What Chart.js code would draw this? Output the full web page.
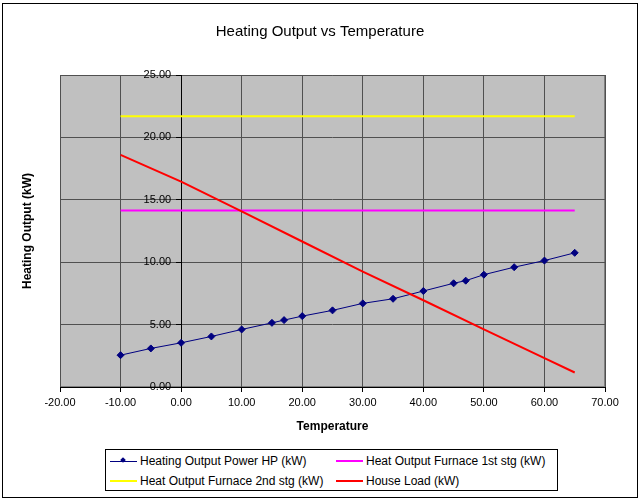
<!DOCTYPE html>
<html>
<head>
<meta charset="utf-8">
<title>Heating Output vs Temperature</title>
<script src="https://cdn.jsdelivr.net/npm/chart.js@4.4.1/dist/chart.umd.min.js"></script>
<style>
  body { margin: 0; background: #fff; font-family: "Liberation Sans", Arial, sans-serif; }
  #wrap { position: relative; width: 640px; height: 500px; }
  #frame { position: absolute; left: 2px; top: 3px; width: 634px; height: 493px; border: 1px solid #000; pointer-events: none; }
  #legend { position: absolute; left: 105px; top: 449px; width: 451px; height: 40px; border: 1px solid #000; background: #fff; font-size: 12px; color: #000; }
  .item { position: absolute; height: 14px; line-height: 14px; white-space: nowrap; }
  .swatch { position: absolute; left: 0; width: 27px; }
  .diamond { position: absolute; left: 11px; top: 4px; width: 4px; height: 4px; transform: rotate(45deg); }
  .label { position: absolute; left: 30px; top: 0; }
</style>
</head>
<body>
<div id="wrap">
  <canvas id="heatChart" width="640" height="500"></canvas>
  <div id="frame"></div>
  <div id="legend"></div>
</div>
<script>
  // values
  const hpTemps = [-10, -5, 0, 5, 10, 15, 17, 20, 25, 30, 35, 40, 45, 47, 50, 55, 60, 65];
  const hpOutput = [2.55, 3.09, 3.54, 4.05, 4.61, 5.14, 5.36, 5.68, 6.14, 6.70, 7.07, 7.69, 8.31, 8.52, 9.00, 9.60, 10.13, 10.75];
  const furnaceTemps = [-10, 65];
  const furnace1st = [14.15, 14.15];
  const furnace2nd = [21.7, 21.7];
  const loadTemps = [-10, 0, 10, 20, 30, 40, 50, 60, 65];
  const houseLoad = [18.6, 16.45, 14.07, 11.66, 9.24, 6.95, 4.61, 2.32, 1.16];
  const xTicks = [-20, -10, 0, 10, 20, 30, 40, 50, 60, 70];
  const yTicks = [0, 5, 10, 15, 20, 25];

  const FONT = '"Liberation Sans", Arial, sans-serif';

  function pairs(xs, ys) {
    return xs.map((x, i) => ({ x: x, y: ys[i] }));
  }

  // gray plot area, titles, and y labels left of the axis at x = 0
  const plotDecor = {
    id: 'plotDecor',
    beforeDraw(chart) {
      const { ctx, chartArea: a } = chart;
      ctx.save();
      ctx.fillStyle = '#c0c0c0';
      ctx.fillRect(a.left, a.top, a.right - a.left, a.bottom - a.top);
      ctx.strokeStyle = '#808080';
      ctx.lineWidth = 1;
      ctx.strokeRect(a.left + 0.5, a.top + 0.5, a.right - a.left - 1, a.bottom - a.top - 1);
      ctx.restore();
    },
    afterDraw(chart) {
      const { ctx, chartArea: a, scales } = chart;
      ctx.save();
      ctx.fillStyle = '#000';
      ctx.textBaseline = 'middle';

      ctx.font = '11px ' + FONT;
      ctx.textAlign = 'right';
      const axisX = scales.x.getPixelForValue(0);
      yTicks.forEach(v => {
        ctx.fillText(v.toFixed(2), axisX - 10, scales.y.getPixelForValue(v));
      });

      ctx.textAlign = 'center';
      ctx.font = '15px ' + FONT;
      ctx.fillText('Heating Output vs Temperature', 320, 32);
      ctx.font = 'bold 12px ' + FONT;
      ctx.fillText('Temperature', (a.left + a.right) / 2, 427);
      ctx.translate(28, (a.top + a.bottom) / 2);
      ctx.rotate(-Math.PI / 2);
      ctx.fillText('Heating Output (kW)', 0, 0);
      ctx.restore();
    }
  };

  const chart = new Chart(document.getElementById('heatChart'), {
    type: 'line',
    data: {
      datasets: [
        {
          label: 'Heating Output Power HP (kW)',
          data: pairs(hpTemps, hpOutput),
          borderColor: '#000080',
          backgroundColor: '#000080',
          borderWidth: 1,
          pointStyle: 'rectRot',
          pointRadius: 3.5,
          pointBorderWidth: 1,
          order: 3
        },
        {
          label: 'Heat Output Furnace 1st stg (kW)',
          data: pairs(furnaceTemps, furnace1st),
          borderColor: '#ff00ff',
          borderWidth: 2,
          pointRadius: 0,
          order: 2
        },
        {
          label: 'Heat Output Furnace 2nd stg (kW)',
          data: pairs(furnaceTemps, furnace2nd),
          borderColor: '#ffff00',
          borderWidth: 2,
          pointRadius: 0,
          order: 1
        },
        {
          label: 'House Load (kW)',
          data: pairs(loadTemps, houseLoad),
          borderColor: '#ff0000',
          borderWidth: 2,
          pointRadius: 0,
          order: 0
        }
      ]
    },
    options: {
      responsive: false,
      animation: false,
      devicePixelRatio: 1,
      layout: { padding: { left: 60, right: 35, top: 75, bottom: 0 } },
      plugins: {
        legend: { display: false },
        title: { display: false },
        tooltip: { enabled: false }
      },
      scales: {
        x: {
          type: 'linear',
          position: 'bottom',
          min: -20,
          max: 70,
          afterBuildTicks: s => { s.ticks = xTicks.map(v => ({ value: v })); },
          afterFit: s => { s.height = 113; },
          grid: { color: '#505050', tickColor: '#000', tickLength: 5 },
          border: { color: '#000' },
          ticks: {
            color: '#000',
            padding: 4,
            maxRotation: 0,
            font: { family: FONT, size: 11 },
            callback: v => v.toFixed(2)
          }
        },
        y: {
          type: 'linear',
          position: { x: 0 },
          min: 0,
          max: 25,
          afterBuildTicks: s => { s.ticks = yTicks.map(v => ({ value: v })); },
          grid: { color: '#505050', tickColor: '#000', tickLength: 5 },
          border: { color: '#000' },
          ticks: { display: false }
        }
      }
    },
    plugins: [plotDecor]
  });

  // legend in two columns, like the original
  const legendSpots = [
    { left: 4, top: 4 },
    { left: 230, top: 4 },
    { left: 4, top: 24 },
    { left: 230, top: 24 }
  ];
  const legend = document.getElementById('legend');
  chart.data.datasets.forEach((ds, i) => {
    const item = document.createElement('div');
    item.className = 'item';
    item.style.left = legendSpots[i].left + 'px';
    item.style.top = legendSpots[i].top + 'px';
    const sw = document.createElement('span');
    sw.className = 'swatch';
    sw.style.background = ds.borderColor;
    sw.style.height = ds.borderWidth + 'px';
    sw.style.top = (7 - Math.floor(ds.borderWidth / 2)) + 'px';
    item.appendChild(sw);
    if (ds.pointRadius > 0) {
      const d = document.createElement('span');
      d.className = 'diamond';
      d.style.background = ds.backgroundColor;
      item.appendChild(d);
    }
    const lab = document.createElement('span');
    lab.className = 'label';
    lab.textContent = ds.label;
    item.appendChild(lab);
    legend.appendChild(item);
  });
</script>
</body>
</html>
